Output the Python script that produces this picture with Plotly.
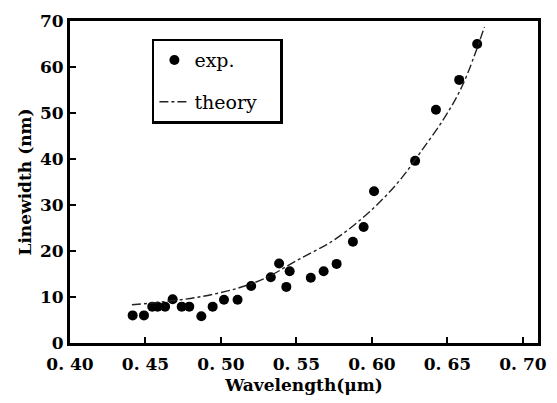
import plotly.graph_objects as go

# experimental points
exp_x = [0.4415, 0.449, 0.4545, 0.458, 0.463, 0.468, 0.474, 0.479, 0.487, 0.4945,
         0.502, 0.511, 0.520, 0.533, 0.5385, 0.5433, 0.5455, 0.5595, 0.568, 0.5766,
         0.5874, 0.5945, 0.6014, 0.6286, 0.6424, 0.6578, 0.6697]
exp_y = [6.0, 6.0, 7.9, 7.9, 7.9, 9.5, 7.9, 7.9, 5.8, 7.9,
         9.4, 9.4, 12.4, 14.3, 17.3, 12.2, 15.6, 14.2, 15.6, 17.2,
         22.0, 25.2, 33.0, 39.6, 50.7, 57.2, 65.0]

# theory curve
th_x = [0.441, 0.46, 0.4855, 0.511, 0.53, 0.550, 0.574, 0.5935, 0.6075, 0.620,
        0.632, 0.6485, 0.6604, 0.6745]
th_y = [8.3, 8.9, 10.0, 11.9, 14.2, 17.9, 22.2, 27.1, 31.4, 36.0,
        41.4, 49.2, 56.3, 68.7]

x_ticks = [0.40, 0.45, 0.50, 0.55, 0.60, 0.65, 0.70]
x_ticktext = ["<b>0.\u00a040</b>", "<b>0.\u00a045</b>", "<b>0.\u00a050</b>", "<b>0.\u00a055</b>",
              "<b>0.\u00a060</b>", "<b>0.\u00a065</b>", "<b>0.\u00a070</b>"]
y_ticks = [0, 10, 20, 30, 40, 50, 60, 70]
y_ticktext = ["<b>0</b>", "<b>10</b>", "<b>20</b>", "<b>30</b>", "<b>40</b>", "<b>50</b>",
              "<b>60</b>", "<b>70</b>"]

font_fam = "DejaVu Serif"

fig = go.Figure()
fig.add_trace(go.Scatter(x=exp_x, y=exp_y, mode="markers", name="exp.",
                         legendgroup="a",
                         marker=dict(color="black", size=10, symbol="circle")))
fig.add_trace(go.Scatter(x=th_x, y=th_y, mode="lines", name="theory\u00a0\u00a0\u00a0",
                         legendgroup="b", line_shape="spline",
                         line=dict(color="#222", width=1.4, dash="dashdot")))

axis_common = dict(showline=True, linecolor="black", linewidth=3, mirror=True,
                   ticks="inside", ticklen=6, tickwidth=2, tickcolor="black",
                   showgrid=False, zeroline=False,
                   tickfont=dict(family=font_fam, size=17, color="black"))

fig.update_layout(
    width=557, height=403,
    margin=dict(l=70, r=11, t=16, b=59),
    paper_bgcolor="white", plot_bgcolor="white",
    showlegend=True,
    legend=dict(x=0.175, y=0.945, xanchor="left", yanchor="top",
                bordercolor="black", borderwidth=2.5, bgcolor="white",
                tracegroupgap=14,
                font=dict(family=font_fam, size=19, color="black")),
    xaxis=dict(range=[0.40, 0.71], tickvals=x_ticks, ticktext=x_ticktext,
               ticklabelstandoff=4,
               title=dict(text="<b>Wavelength(μm)</b>", standoff=6,
                          font=dict(family=font_fam, size=17, color="black")),
               **axis_common),
    yaxis=dict(range=[0, 70], tickvals=y_ticks, ticktext=y_ticktext,
               title=dict(text="<b>Linewidth (nm)</b>", standoff=4,
                          font=dict(family=font_fam, size=17, color="black")),
               **axis_common),
)

fig.write_html("out.html")
